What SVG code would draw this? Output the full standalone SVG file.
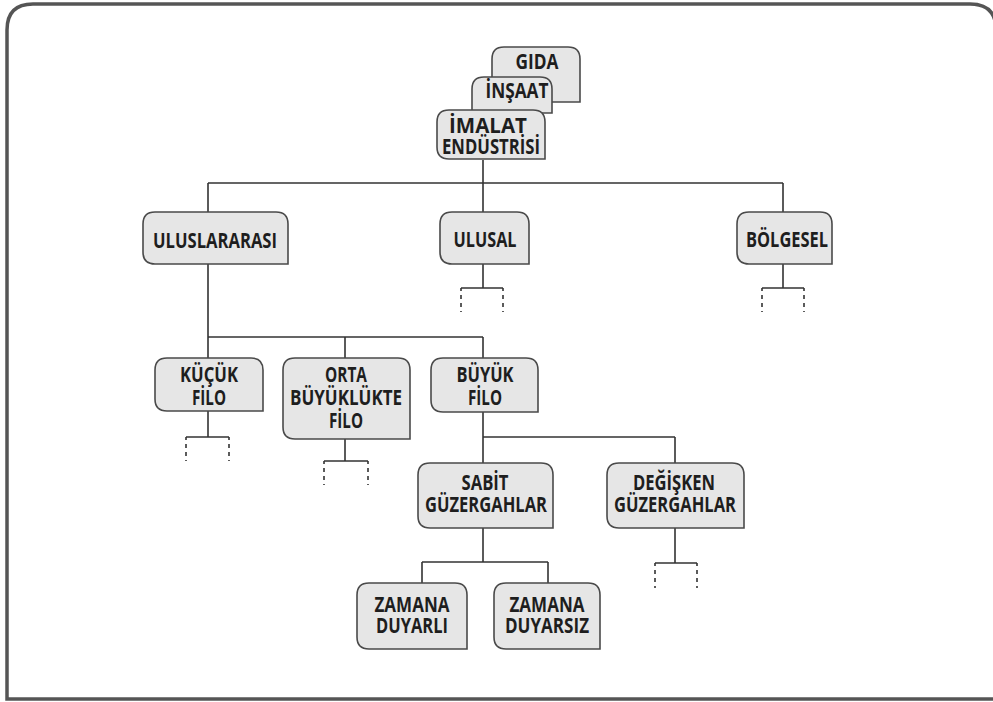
<svg xmlns="http://www.w3.org/2000/svg" width="993" height="702" viewBox="0 0 993 702">
  <defs>
    <style>
      .frame { fill: #ffffff; stroke: #555555; stroke-width: 3.5; }
      .box { fill: #e6e6e6; stroke: #4a4a4a; stroke-width: 1.6; }
      .lbl { font-family: "Open Sans", "Noto Sans", "DejaVu Sans", sans-serif; font-weight: bold; font-size: 21px; fill: #1e1e1e; text-anchor: middle; }
      .link { fill: none; stroke: #333333; stroke-width: 1.6; }
      .stub { fill: none; stroke: #333333; stroke-width: 1.6; stroke-dasharray: 4 4; }
    </style>
  </defs>

  <!-- outer frame: rounded top corners, square bottom -->
  <path class="frame" d="M 7 699 L 7 30 Q 7 4 33 4 L 970 4 Q 996 4 996 30 L 996 699 Z"/>

  <!-- connectors -->
  <g id="connectors">
    <!-- industry stack to markets -->
    <path class="link" d="M 483 160 V 183 M 208 183 H 783 M 208 183 V 212 M 483 183 V 212 M 783 183 V 212"/>
    <!-- ULUSAL stub -->
    <path class="link" d="M 483 264 V 288 M 461 288 H 503 M 461 288 V 291 M 503 288 V 291"/>
    <path class="stub" d="M 461 295 V 312 M 503 295 V 312"/>
    <!-- BÖLGESEL stub -->
    <path class="link" d="M 783 264 V 288 M 762 288 H 804 M 762 288 V 291 M 804 288 V 291"/>
    <path class="stub" d="M 762 295 V 312 M 804 295 V 312"/>
    <!-- fleet sizes -->
    <path class="link" d="M 208 264 V 337 M 208 337 H 483 M 208 337 V 358 M 345 337 V 358 M 483 337 V 358"/>
    <!-- KÜÇÜK FİLO stub -->
    <path class="link" d="M 208 411 V 437 M 186 437 H 229 M 186 437 V 440 M 229 437 V 440"/>
    <path class="stub" d="M 186 444 V 461 M 229 444 V 461"/>
    <!-- ORTA BÜYÜKLÜKTE FİLO stub -->
    <path class="link" d="M 345 439 V 461 M 324 461 H 368 M 324 461 V 464 M 368 461 V 464"/>
    <path class="stub" d="M 324 468 V 485 M 368 468 V 485"/>
    <!-- route types -->
    <path class="link" d="M 483 412 V 437 M 483 437 H 675 M 483 437 V 463 M 675 437 V 463"/>
    <!-- DEĞİŞKEN stub -->
    <path class="link" d="M 675 528 V 563 M 655 563 H 697 M 655 563 V 566 M 697 563 V 566"/>
    <path class="stub" d="M 655 570 V 588 M 697 570 V 588"/>
    <!-- time sensitivity -->
    <path class="link" d="M 483 528 V 562 M 422 562 H 548 M 422 562 V 583 M 548 562 V 583"/>
  </g>

  <!-- stacked industry boxes -->
  <g id="gida">
    <path class="box" d="M 492 102 V 59 Q 492 47 504 47 H 568 Q 580 47 580 59 V 102 Z"/>
    <text class="lbl" x="537" y="69" textLength="43" lengthAdjust="spacingAndGlyphs">GIDA</text>
  </g>
  <g id="insaat">
    <path class="box" d="M 472 113 V 89 Q 472 77 484 77 H 540 Q 552 77 552 89 V 113 Z"/>
    <text class="lbl" x="517" y="98" textLength="63" lengthAdjust="spacingAndGlyphs">İNŞAAT</text>
  </g>
  <g id="imalat">
    <path class="box" d="M 437 122 Q 437 110 449 110 H 533 Q 545 110 545 122 V 159 H 449 Q 437 159 437 147 Z"/>
    <text class="lbl" x="488" y="133" textLength="78" lengthAdjust="spacingAndGlyphs">İMALAT</text>
    <text class="lbl" x="491" y="154" textLength="98" lengthAdjust="spacingAndGlyphs">ENDÜSTRİSİ</text>
  </g>

  <!-- market level -->
  <g id="uluslararasi">
    <path class="box" d="M 143 224 Q 143 212 155 212 H 276 Q 288 212 288 224 V 264 H 155 Q 143 264 143 252 Z"/>
    <text class="lbl" x="215" y="248" textLength="124" lengthAdjust="spacingAndGlyphs">ULUSLARARASI</text>
  </g>
  <g id="ulusal">
    <path class="box" d="M 440 224 Q 440 212 452 212 H 517 Q 529 212 529 224 V 264 H 452 Q 440 264 440 252 Z"/>
    <text class="lbl" x="485" y="247" textLength="63" lengthAdjust="spacingAndGlyphs">ULUSAL</text>
  </g>
  <g id="bolgesel">
    <path class="box" d="M 737 224 Q 737 212 749 212 H 820 Q 832 212 832 224 V 264 H 749 Q 737 264 737 252 Z"/>
    <text class="lbl" x="787" y="247" textLength="82" lengthAdjust="spacingAndGlyphs">BÖLGESEL</text>
  </g>

  <!-- fleet size level -->
  <g id="kucuk-filo">
    <path class="box" d="M 155 370 Q 155 358 167 358 H 251 Q 263 358 263 370 V 411 H 167 Q 155 411 155 399 Z"/>
    <text class="lbl" x="209" y="382" textLength="58" lengthAdjust="spacingAndGlyphs">KÜÇÜK</text>
    <text class="lbl" x="209" y="405" textLength="34" lengthAdjust="spacingAndGlyphs">FİLO</text>
  </g>
  <g id="orta-filo">
    <path class="box" d="M 283 370 Q 283 358 295 358 H 398 Q 410 358 410 370 V 439 H 295 Q 283 439 283 427 Z"/>
    <text class="lbl" x="346" y="382" textLength="42" lengthAdjust="spacingAndGlyphs">ORTA</text>
    <text class="lbl" x="346" y="405" textLength="112" lengthAdjust="spacingAndGlyphs">BÜYÜKLÜKTE</text>
    <text class="lbl" x="346" y="428" textLength="34" lengthAdjust="spacingAndGlyphs">FİLO</text>
  </g>
  <g id="buyuk-filo">
    <path class="box" d="M 431 370 Q 431 358 443 358 H 526 Q 538 358 538 370 V 412 H 443 Q 431 412 431 400 Z"/>
    <text class="lbl" x="485" y="382" textLength="57" lengthAdjust="spacingAndGlyphs">BÜYÜK</text>
    <text class="lbl" x="485" y="405" textLength="34" lengthAdjust="spacingAndGlyphs">FİLO</text>
  </g>

  <!-- route level -->
  <g id="sabit">
    <path class="box" d="M 418 475 Q 418 463 430 463 H 541 Q 553 463 553 475 V 528 H 430 Q 418 528 418 516 Z"/>
    <text class="lbl" x="485" y="490" textLength="47" lengthAdjust="spacingAndGlyphs">SABİT</text>
    <text class="lbl" x="486" y="512" textLength="122" lengthAdjust="spacingAndGlyphs">GÜZERGAHLAR</text>
  </g>
  <g id="degisken">
    <path class="box" d="M 607 475 Q 607 463 619 463 H 732 Q 744 463 744 475 V 528 H 619 Q 607 528 607 516 Z"/>
    <text class="lbl" x="674" y="490" textLength="82" lengthAdjust="spacingAndGlyphs">DEĞİŞKEN</text>
    <text class="lbl" x="675" y="512" textLength="122" lengthAdjust="spacingAndGlyphs">GÜZERGAHLAR</text>
  </g>

  <!-- time sensitivity level -->
  <g id="zamana-duyarli">
    <path class="box" d="M 357 595 Q 357 583 369 583 H 455 Q 467 583 467 595 V 649 H 369 Q 357 649 357 637 Z"/>
    <text class="lbl" x="412" y="612" textLength="75" lengthAdjust="spacingAndGlyphs">ZAMANA</text>
    <text class="lbl" x="412" y="633" textLength="72" lengthAdjust="spacingAndGlyphs">DUYARLI</text>
  </g>
  <g id="zamana-duyarsiz">
    <path class="box" d="M 494 595 Q 494 583 506 583 H 588 Q 600 583 600 595 V 649 H 506 Q 494 649 494 637 Z"/>
    <text class="lbl" x="547" y="612" textLength="75" lengthAdjust="spacingAndGlyphs">ZAMANA</text>
    <text class="lbl" x="547" y="633" textLength="84" lengthAdjust="spacingAndGlyphs">DUYARSIZ</text>
  </g>
</svg>
